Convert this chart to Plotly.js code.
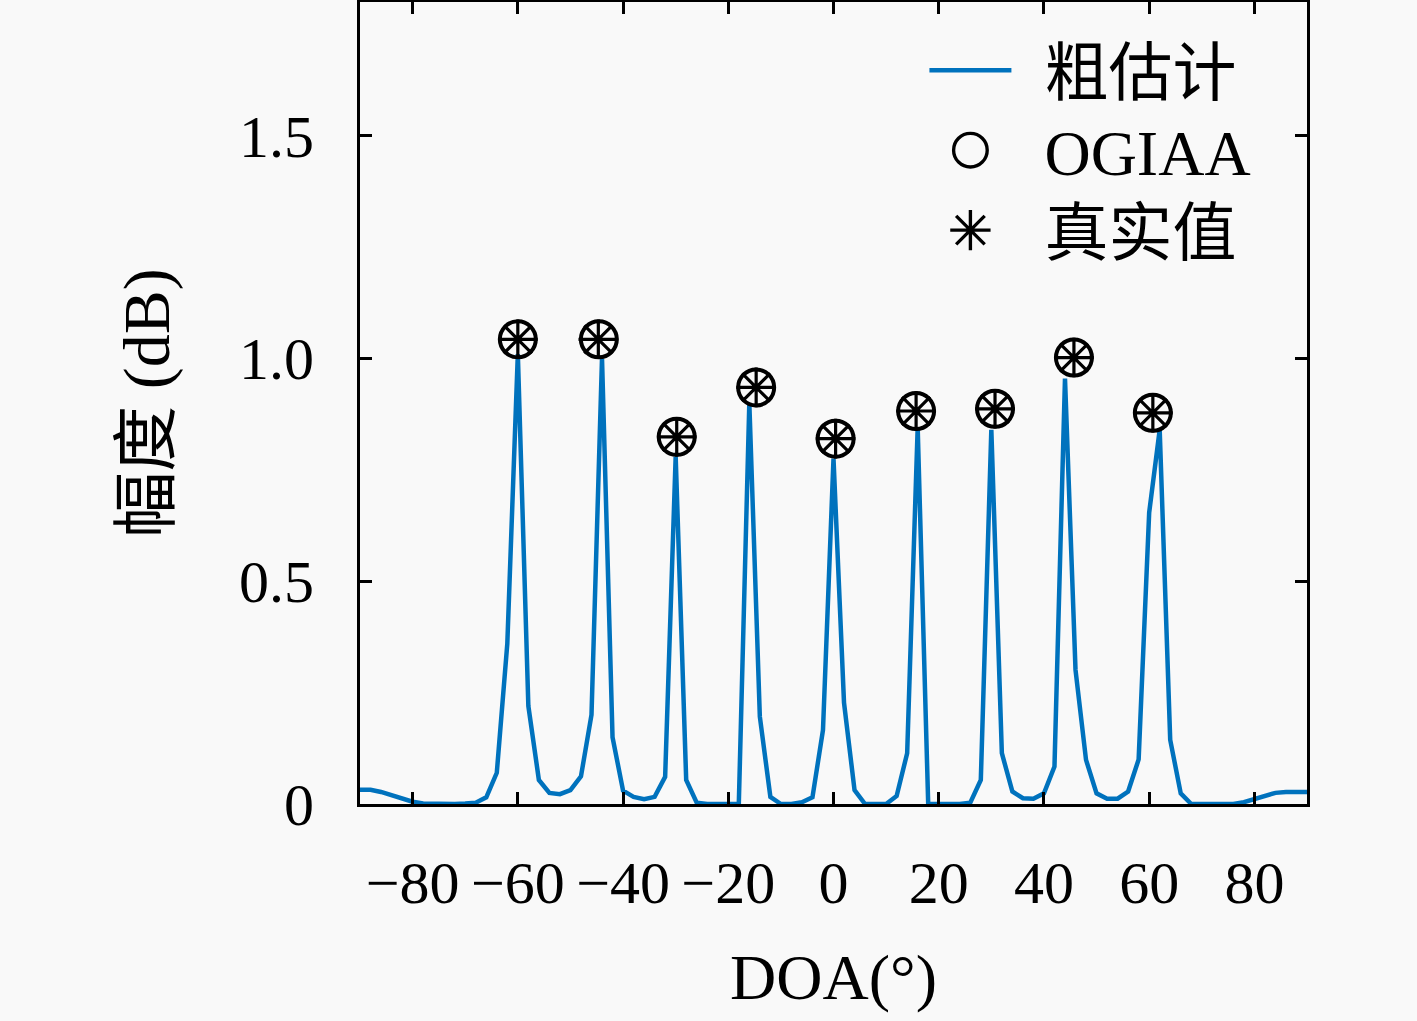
<!DOCTYPE html>
<html>
<head>
<meta charset="utf-8">
<script src="https://cdn.plot.ly/plotly-3.0.1.min.js"></script>
<style>html,body{margin:0;padding:0;background:#f9f9f9;}#chart{width:1417px;height:1021px;}</style>
</head>
<body>
<div id="chart"></div>
<script>
// DOA grid (degrees) of the coarse estimate
const doa = [-90,-88,-86,-84,-82,-80,-78,-76,-74,-72,-70,-68,-66,-64,-62,-60,-58,-56,-54,-52,-50,-48,-46,-44,-42,-40,-38,-36,-34,-32,-30,-28,-26,-24,-22,-20,-18,-16,-14,-12,-10,-8,-6,-4,-2,0,2,4,6,8,10,12,14,16,18,20,22,24,26,28,30,32,34,36,38,40,42,44,46,48,50,52,54,56,58,60,62,64,66,68,70,72,74,76,78,80,82,84,86,88,90];
// coarse estimate amplitude
const coarse = [0.032,0.032,0.027,0.019,0.011,0.005,0.001,0.0,0.0,0.0,0.001,0.003,0.015,0.07,0.36,1.01,0.22,0.054,0.025,0.022,0.031,0.062,0.2,1.0,0.15,0.03,0.016,0.011,0.016,0.061,0.78,0.054,0.003,0.0,0.0,0.0,0.0,0.9,0.196,0.016,0.0,0.0,0.004,0.015,0.166,0.775,0.227,0.031,0.0,0.0,0.0,0.018,0.114,0.845,0.0,0.0,0.0,0.0,0.003,0.054,0.84,0.114,0.028,0.013,0.012,0.024,0.084,0.955,0.301,0.099,0.024,0.012,0.012,0.028,0.1,0.654,0.84,0.144,0.024,0.0,0.0,0.0,0.0,0.0,0.004,0.011,0.02,0.025,0.027,0.027,0.027];
// OGIAA estimates
const ogiaaDoa = [-60.0,-44.6,-29.8,-14.7,0.4,15.7,30.7,45.7,60.7];
const ogiaaAmp = [1.043,1.043,0.824,0.935,0.82,0.882,0.887,1.002,0.878];
// true values
const trueDoa = [-60.0,-44.7,-29.8,-14.7,0.4,15.7,30.7,45.7,60.7];
const trueAmp = [1.043,1.043,0.824,0.935,0.82,0.882,0.887,1.002,0.878];
// ticks
const xTicks = [-80,-60,-40,-20,0,20,40,60,80];
const xTickText = ['\u221280','\u221260','\u221240','\u221220','0','20','40','60','80'];
const yTicks = [0,0.5,1.0,1.5];
const yTickText = ['0','0.5','1.0','1.5'];

const serif = "'Liberation Serif', 'Noto Sans CJK SC', serif";

const traces = [
  {x: doa, y: coarse, type: 'scatter', mode: 'lines', name: '粗估计',
   line: {color: '#0072BD', width: 4.5}},
  {x: ogiaaDoa, y: ogiaaAmp, type: 'scatter', mode: 'markers', name: 'OGIAA',
   marker: {symbol: 'circle-open', size: 36, color: '#000', line: {color: '#000', width: 4}}},
  {x: trueDoa, y: trueAmp, type: 'scatter', mode: 'markers', name: '真实值',
   marker: {symbol: 'asterisk-open', size: 33, color: '#000', line: {color: '#000', width: 3.2}}}
];

const layout = {
  width: 1417, height: 1021,
  paper_bgcolor: '#f9f9f9', plot_bgcolor: '#f9f9f9',
  margin: {l: 360, r: 110, t: 2, b: 217},
  showlegend: true,
  legend: {x: 0.596, xanchor: 'left', y: 0.975, yanchor: 'top', bgcolor: 'rgba(0,0,0,0)',
           borderwidth: 0, font: {family: serif, size: 64, color: '#000'}, itemwidth: 82,
           tracegroupgap: 0},
  xaxis: {range: [-90, 90], tickvals: xTicks, ticktext: xTickText, ticks: 'inside', ticklen: 12,
          tickwidth: 3, tickcolor: '#000', showline: true, linecolor: '#000', linewidth: 3,
          mirror: 'ticks', showgrid: false, zeroline: false, ticklabelstandoff: 24,
          tickfont: {family: serif, size: 60, color: '#000'},
          title: {text: 'DOA(°)', font: {family: serif, size: 64, color: '#000'}, standoff: 40}},
  yaxis: {range: [0, 1.8], tickvals: yTicks, ticktext: yTickText, ticks: 'inside', ticklen: 12,
          tickwidth: 3, tickcolor: '#000', showline: true, linecolor: '#000', linewidth: 3,
          mirror: 'ticks', showgrid: false, zeroline: false, ticklabelstandoff: 31,
          tickfont: {family: serif, size: 60, color: '#000'},
          title: {text: '幅度 (dB)', font: {family: serif, size: 66, color: '#000'}, standoff: 48}}
};

Plotly.newPlot('chart', traces, layout, {displayModeBar: false, staticPlot: true}).then(function (gd) {
  // let legend content extend beyond Plotly's computed box
  gd.querySelectorAll('.legend .scrollbox, .legend').forEach(function (el) {
    el.removeAttribute('clip-path');
  });
  // enlarge legend symbols to match the plotted marker size
  gd.querySelectorAll('.legend .legendpoints path.scatterpts').forEach(function (p) {
    const t = p.getAttribute('transform') || '';
    p.setAttribute('transform', t + ' scale(2.1)');
    p.style.strokeWidth = '1.6px';
  });
  // gap between legend symbol and text
  gd.querySelectorAll('.legend text.legendtext').forEach(function (t) {
    const x = parseFloat(t.getAttribute('x')) || 0;
    t.setAttribute('x', x + 28);
  });
  // row spacing of legend entries
  const items = gd.querySelectorAll('.legend g.traces');
  let y0 = null;
  items.forEach(function (g, i) {
    const m = /translate\(([-\d.]+),\s*([-\d.]+)\)/.exec(g.getAttribute('transform') || '');
    if (!m) return;
    const x = parseFloat(m[1]);
    if (y0 === null) y0 = parseFloat(m[2]);
    g.setAttribute('transform', 'translate(' + x + ',' + (y0 + i * 80) + ')');
  });
});
</script>
</body>
</html>
